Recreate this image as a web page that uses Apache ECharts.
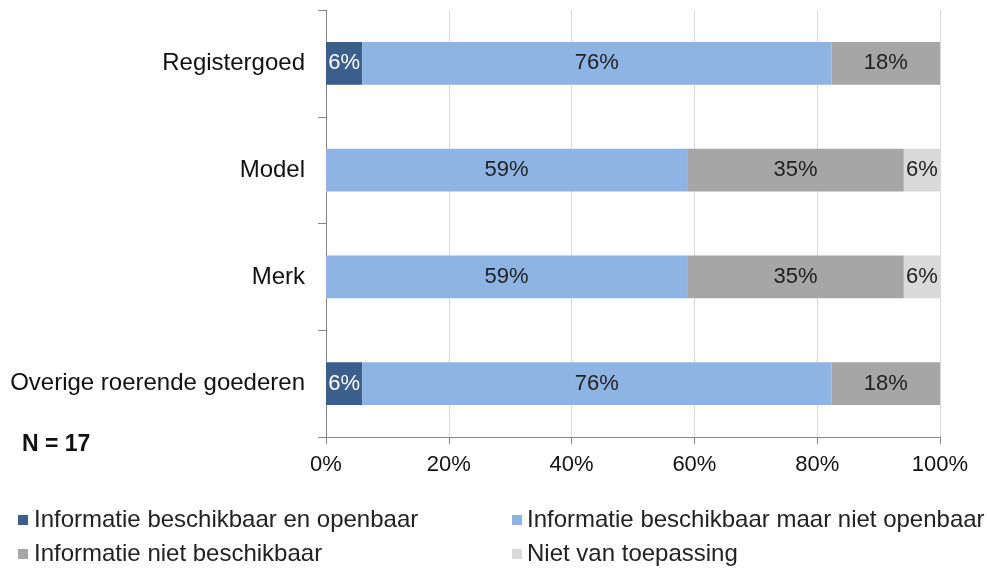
<!DOCTYPE html>
<html>
<head>
    <meta charset="utf-8">
    <script src="https://cdn.jsdelivr.net/npm/echarts@6/dist/echarts.min.js"></script>
    <style>
        body { margin: 0; background: #fff; }
    </style>
</head>
<body>
    <div id="main" style="width: 987px;height:572px;"></div>
    <script type="text/javascript">
        // data (percentages, N = 17)
        var categories = ['Registergoed', 'Model', 'Merk', 'Overige roerende goederen'];
        var seriesNames = ['Informatie beschikbaar en openbaar', 'Informatie beschikbaar maar niet openbaar', 'Informatie niet beschikbaar', 'Niet van toepassing'];
        var openbaar = [5.88, 0, 0, 5.88];
        var nietOpenbaar = [76.47, 58.82, 58.82, 76.47];
        var nietBeschikbaar = [17.65, 35.29, 35.29, 17.65];
        var nvt = [0, 5.88, 5.88, 0];
        var colors = ['#3B5F8D', '#8EB4E3', '#A6A6A6', '#D9D9D9'];
        var labelColors = ['#ffffff', '#222222', '#222222', '#222222'];

        var myChart = echarts.init(document.getElementById('main'));
        var fontFam = '"Liberation Sans", Arial, sans-serif';

        function makeSeries(i, values) {
            return {
                name: seriesNames[i],
                type: 'bar',
                stack: 'total',
                barWidth: '40%',
                data: values,
                itemStyle: { color: colors[i] },
                label: {
                    show: true,
                    position: 'inside',
                    color: labelColors[i],
                    fontSize: 22,
                    fontFamily: fontFam,
                    formatter: function (p) {
                        return p.value > 0 ? Math.round(p.value) + '%' : '';
                    }
                },
                emphasis: { disabled: true }
            };
        }

        var option = {
            animation: false,
            textStyle: { fontFamily: fontFam },
            graphic: [{
                type: 'text',
                left: 22,
                top: 433,
                style: { text: 'N = 17', font: 'bold 23px "Liberation Sans", Arial, sans-serif', fill: '#111' }
            }],
            legend: [{
                left: 13,
                top: 503,
                orient: 'vertical',
                itemGap: 10,
                itemWidth: 10,
                itemHeight: 10,
                icon: 'rect',
                data: [seriesNames[0], seriesNames[2]],
                textStyle: { fontSize: 24, color: '#222', padding: [0, 0, 0, 1] }
            }, {
                left: 507,
                top: 503,
                orient: 'vertical',
                itemGap: 10,
                itemWidth: 10,
                itemHeight: 10,
                icon: 'rect',
                data: [seriesNames[1], seriesNames[3]],
                textStyle: { fontSize: 24, color: '#222', padding: [0, 0, 0, 0] }
            }],
            grid: {
                left: 326,
                right: 47,
                top: 10,
                bottom: 135,
                containLabel: false
            },
            xAxis: {
                type: 'value',
                min: 0,
                max: 100,
                interval: 20,
                axisLine: { show: true, lineStyle: { color: '#868686' } },
                axisTick: { show: true, length: 7, lineStyle: { color: '#868686' } },
                splitLine: { show: true, lineStyle: { color: '#D9D9D9' } },
                axisLabel: {
                    formatter: '{value}%',
                    fontSize: 22,
                    color: '#111',
                    margin: 17
                }
            },
            yAxis: {
                type: 'category',
                inverse: true,
                data: categories,
                axisLine: { show: true, lineStyle: { color: '#868686' } },
                axisTick: { show: true, length: 8, lineStyle: { color: '#868686' } },
                axisLabel: { fontSize: 24, color: '#111', margin: 21 }
            },
            series: [
                makeSeries(0, openbaar),
                makeSeries(1, nietOpenbaar),
                makeSeries(2, nietBeschikbaar),
                makeSeries(3, nvt)
            ]
        };

        myChart.setOption(option);
    </script>
</body>
</html>
